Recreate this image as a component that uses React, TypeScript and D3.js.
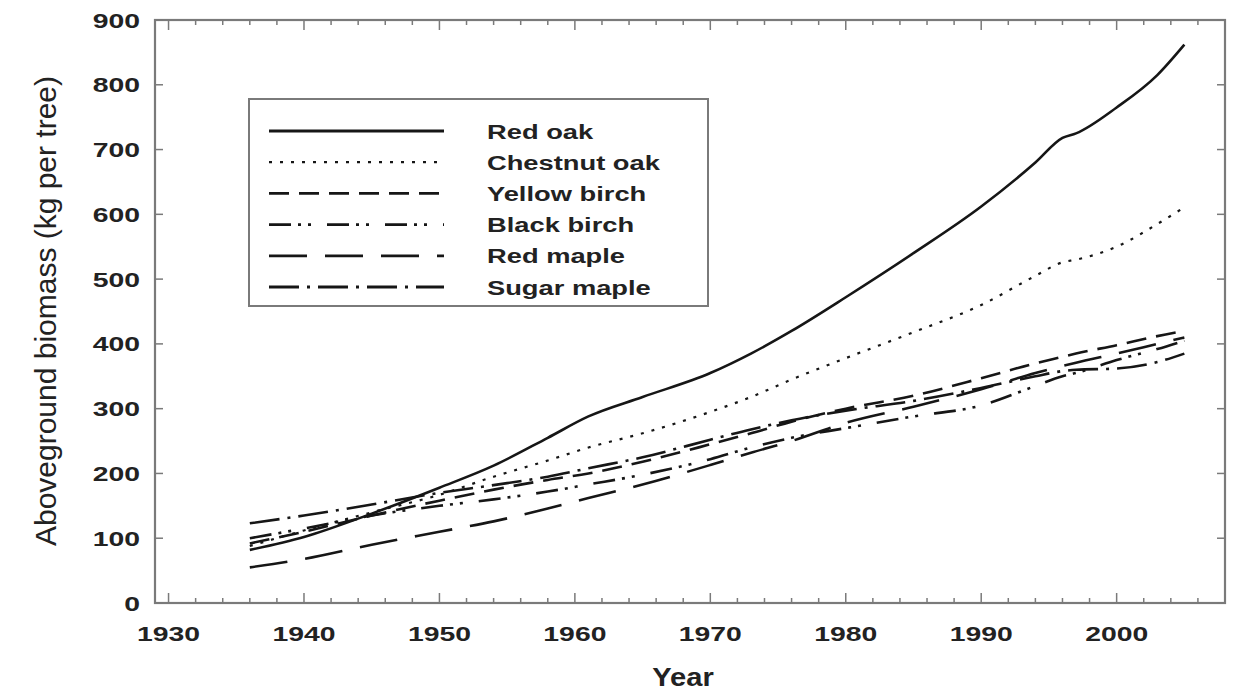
import React, { useEffect, useRef } from "react";
import * as d3 from "d3";

// survey years shared by every series
const years = [1936, 1940, 1945, 1950, 1954, 1958, 1961, 1965, 1970, 1973, 1976, 1980, 1985, 1990, 1994, 1996, 1997, 2000, 2003, 2005];

const redOak = [82, 102, 138, 178, 212, 255, 288, 318, 355, 385, 420, 472, 540, 612, 680, 718, 725, 765, 815, 862];
const chestnutOak = [88, 112, 140, 167, 195, 220, 240, 262, 295, 318, 345, 378, 418, 460, 505, 526, 530, 550, 585, 611];
const yellowBirch = [92, 110, 135, 158, 175, 190, 200, 218, 245, 262, 280, 300, 320, 347, 370, 380, 385, 398, 412, 420];
const blackBirch = [100, 115, 135, 150, 160, 172, 183, 198, 222, 240, 255, 270, 288, 305, 335, 350, 355, 375, 392, 405];
const redMaple = [55, 68, 90, 110, 126, 146, 162, 183, 213, 232, 250, 278, 303, 330, 355, 366, 371, 385, 400, 410];
const sugarMaple = [123, 135, 152, 170, 182, 195, 208, 225, 252, 268, 282, 297, 312, 332, 350, 358, 360, 362, 372, 385];

const seriesNames = ["Red oak", "Chestnut oak", "Yellow birch", "Black birch", "Red maple", "Sugar maple"];
const seriesValues = [redOak, chestnutOak, yellowBirch, blackBirch, redMaple, sugarMaple];

const xTicks = [1930, 1940, 1950, 1960, 1970, 1980, 1990, 2000];
const yTicks = [0, 100, 200, 300, 400, 500, 600, 700, 800, 900];

const dashes = ["none", "3,8", "20,10", "22,7,3,7,3,16", "38,18", "30,8,3,8"];

const App: React.FC = () => {
  const svgRef = useRef<SVGSVGElement | null>(null);

  useEffect(() => {
    if (!svgRef.current) return;
    const W = 1234;
    const H = 693;
    const left = 155, right = 1225, top = 20, bottom = 603;
    const stretch = 1.35; // the figure text is wide, as if scaled horizontally

    const x = d3.scaleLinear().domain([1929, 2008]).range([left, right]);
    const y = d3.scaleLinear().domain([0, 900]).range([bottom, top]);

    const svg = d3.select(svgRef.current).attr("width", W).attr("height", H);
    svg.selectAll("*").remove();

    const axisColor = "#7a7a7a";
    const font = "'Liberation Sans', Arial, sans-serif";

    // frame
    svg.append("rect")
      .attr("x", left).attr("y", top)
      .attr("width", right - left).attr("height", bottom - top)
      .attr("fill", "none").attr("stroke", axisColor).attr("stroke-width", 2.2);

    // x ticks (bottom + top), every 2 years
    const minor = d3.range(1930, 2008, 2);
    minor.forEach((yr) => {
      const len = yr % 10 === 0 ? 10 : 5;
      const px = x(yr);
      svg.append("line").attr("x1", px).attr("x2", px).attr("y1", bottom).attr("y2", bottom - len)
        .attr("stroke", axisColor).attr("stroke-width", 1.5);
      svg.append("line").attr("x1", px).attr("x2", px).attr("y1", top).attr("y2", top + len)
        .attr("stroke", axisColor).attr("stroke-width", 1.5);
    });

    // y ticks (left + right)
    yTicks.forEach((v) => {
      const py = y(v);
      svg.append("line").attr("x1", left).attr("x2", left + 8).attr("y1", py).attr("y2", py)
        .attr("stroke", axisColor).attr("stroke-width", 1.5);
      svg.append("line").attr("x1", right).attr("x2", right - 8).attr("y1", py).attr("y2", py)
        .attr("stroke", axisColor).attr("stroke-width", 1.5);
    });

    // tick labels
    svg.selectAll(".xl").data(xTicks).enter().append("text")
      .attr("transform", (d) => `translate(${x(d)},641) scale(${stretch},1)`)
      .attr("text-anchor", "middle")
      .attr("font-family", font).attr("font-weight", "bold").attr("font-size", 21)
      .attr("fill", "#222")
      .text((d) => d);

    svg.selectAll(".yl").data(yTicks).enter().append("text")
      .attr("transform", (d) => `translate(140,${y(d) + 7.5}) scale(${stretch},1)`)
      .attr("text-anchor", "end")
      .attr("font-family", font).attr("font-weight", "bold").attr("font-size", 21)
      .attr("fill", "#222")
      .text((d) => d);

    // axis titles
    svg.append("text")
      .attr("transform", `translate(683,686) scale(1.12,1)`)
      .attr("text-anchor", "middle")
      .attr("font-family", font).attr("font-weight", "bold").attr("font-size", 26)
      .attr("fill", "#222")
      .text("Year");

    svg.append("text")
      .attr("transform", `translate(56,${311}) rotate(-90)`)
      .attr("text-anchor", "middle")
      .attr("font-family", font).attr("font-size", 29)
      .attr("textLength", 470).attr("lengthAdjust", "spacingAndGlyphs")
      .attr("fill", "#222")
      .text("Aboveground biomass (kg per tree)");

    // series lines
    const line = d3.line<number>()
      .x((_, i) => x(years[i]))
      .y((d) => y(d))
      .curve(d3.curveMonotoneX);

    seriesValues.forEach((vals, i) => {
      svg.append("path")
        .attr("d", line(vals))
        .attr("fill", "none")
        .attr("stroke", "#161616")
        .attr("stroke-width", i === 1 ? 2.2 : 2.6)
        .attr("stroke-dasharray", dashes[i]);
    });

    // legend
    const lg = svg.append("g");
    lg.append("rect")
      .attr("x", 249).attr("y", 99).attr("width", 459).attr("height", 207)
      .attr("fill", "#fff").attr("stroke", axisColor).attr("stroke-width", 2);

    seriesNames.forEach((name, i) => {
      const ly = 131 + i * 31.2;
      lg.append("line")
        .attr("x1", 269).attr("x2", 444).attr("y1", ly).attr("y2", ly)
        .attr("stroke", "#161616").attr("stroke-width", i === 1 ? 2.2 : 2.8)
        .attr("stroke-dasharray", dashes[i]);
      lg.append("text")
        .attr("transform", `translate(487,${ly + 7.5}) scale(1.3,1)`)
        .attr("font-family", font).attr("font-weight", "bold").attr("font-size", 21)
        .attr("fill", "#222")
        .text(name);
    });
  }, []);

  return <svg ref={svgRef} style={{ position: "absolute", left: 0, top: 0 }} />;
};

export default App;
